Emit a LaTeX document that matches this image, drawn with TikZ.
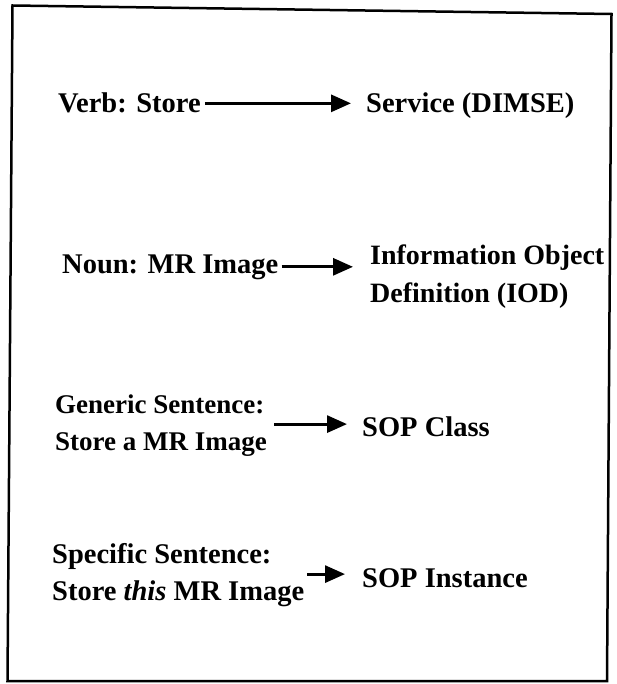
\documentclass[tikz,border=0pt]{standalone}
\usepackage{fontspec}
\setmainfont{Liberation Serif}
\usetikzlibrary{arrows.meta}
\begin{document}
\begin{tikzpicture}[x=1pt,y=-1pt,
  lbl/.style={font=\fontsize{28.5}{37}\selectfont\bfseries, inner sep=0pt, anchor=base west},
  narrow/.style={font=\fontsize{27}{37}\selectfont\bfseries},
  arr/.style={line width=3pt, -{Triangle[length=20pt,width=17pt]}}]
\useasboundingbox (0,0) rectangle (617,684);
% slightly skewed outer frame
\draw[line width=2.5pt, line join=miter] (12.5,5.5) -- (611.5,14) -- (607,681) -- (7.5,681) -- cycle;

% row 1
\node[lbl] (verb) at (58,113) {Verb: Store};
\node[lbl] (service) at (366,113) {Service (DIMSE)};
% row 2
\node[lbl] (noun) at (62,273) {Noun: MR Image};
\node[lbl, font=\fontsize{28}{37}\selectfont\bfseries] (iod) at (370,265)
  {\begin{tabular}[t]{@{}l@{}}Information Object\\Definition (IOD)\end{tabular}};
% row 3
\node[lbl, narrow] (generic) at (55,413)
  {\begin{tabular}[t]{@{}l@{}}Generic Sentence:\\Store a MR Image\end{tabular}};
\node[lbl] (sopclass) at (362,436) {SOP Class};
% row 4
\node[lbl] (specific) at (52,563)
  {\begin{tabular}[t]{@{}l@{}}Specific Sentence:\\Store \textit{this} MR Image\end{tabular}};
\node[lbl] (sopinst) at (362,587) {SOP Instance};

% connectors
\draw[arr] ([xshift=4pt]verb.east) -- ([xshift=-15pt]verb.east -| service.west);
\draw[arr] ([xshift=3pt]noun.east) -- ([xshift=-17pt]noun.east -| iod.west);
\draw[arr] ([xshift=7pt]generic.east) -- ([xshift=-15pt]generic.east -| sopclass.west);
\draw[arr] ([xshift=3pt]specific.east) -- ([xshift=-17pt]specific.east -| sopinst.west);
\end{tikzpicture}
\end{document}
